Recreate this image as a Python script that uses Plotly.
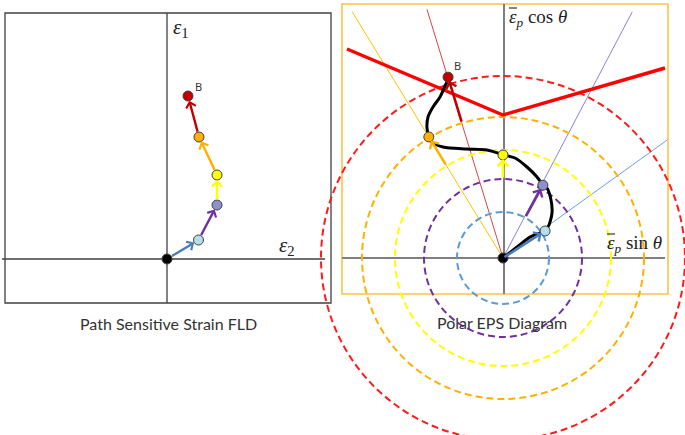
import numpy as np
import plotly.graph_objects as go

# ---------------- data ----------------
# Left panel: path-sensitive strain FLD (eps2, eps1), origin first
fld_eps2 = [0.000, 0.063, 0.100, 0.100, 0.064, 0.042]
fld_eps1 = [0.000, 0.038, 0.108, 0.168, 0.244, 0.326]

# Right panel: polar EPS diagram, stages (theta from eps1 axis, eq. plastic strain)
stage_theta_deg = [0.0, 57.3, 28.7, 0.0, -31.5, -16.9]
stage_eps_p = [0.000, 0.100, 0.166, 0.206, 0.284, 0.378]
circle_eps_p = [0.092, 0.158, 0.216, 0.282, 0.364]
ray_theta_deg = [54.3, 27.7, -31.5, -17.0]
ray_length = [0.404, 0.556, 0.578, 0.520]

# polar forming limit curve (eps_p sin(theta), eps_p cos(theta))
flc_x = [-0.312, 0.000, 0.324]
flc_y = [0.418, 0.286, 0.380]

# strain path drawn in the polar diagram
path_x = [0.000, 0.028, 0.054, 0.078, 0.090, 0.098, 0.096, 0.088, 0.080,
          0.068, 0.048, 0.024, 0.002, -0.032, -0.072, -0.120, -0.142, -0.148,
          -0.152, -0.150, -0.140, -0.126, -0.116, -0.112]
path_y = [0.000, 0.022, 0.042, 0.052, 0.062, 0.090, 0.116, 0.140, 0.146,
          0.162, 0.182, 0.200, 0.206, 0.216, 0.218, 0.222, 0.232, 0.242,
          0.260, 0.282, 0.302, 0.322, 0.344, 0.352]

marker_fill = ["#000000", "#b7dde8", "#8f90d0", "#ffff00", "#ffb000", "#c00000"]
arrow_col = ["#4a7ebb", "#7030a0", "#ffff00", "#ffb000", "#c00000"]
circle_col = ["#5b9bd5", "#7030a0", "#ffff00", "#ffb000", "#ff1a1a"]
ray_col = ["#6f9fe6", "#8585d6", "#ffc000", "#d24848"]

W, H = 685, 435

def P(px, py):
    return px / W, 1 - py / H

fig = go.Figure()

th = np.radians(stage_theta_deg)
sx = np.array(stage_eps_p) * np.sin(th)
sy = np.array(stage_eps_p) * np.cos(th)

shapes = []
def pline(xa, ya, xb, yb, color, width, layer="below"):
    a, b = P(xa, ya); c, d = P(xb, yb)
    shapes.append(dict(type="line", xref="paper", yref="paper", x0=a, y0=b, x1=c, y1=d,
                       line=dict(color=color, width=width), layer=layer))

# frames
x0, y0 = P(5, 303); x1, y1 = P(331, 13)
shapes.append(dict(type="rect", xref="paper", yref="paper", x0=x0, y0=y0, x1=x1, y1=y1,
                   line=dict(color="#404040", width=1.3), layer="below"))
x0, y0 = P(342, 294); x1, y1 = P(668, 4)
shapes.append(dict(type="rect", xref="paper", yref="paper", x0=x0, y0=y0, x1=x1, y1=y1,
                   line=dict(color="#fbc34a", width=1.6), layer="below"))
# left axes
pline(167, 13, 167, 303, "#404040", 1.3)
pline(2, 259, 325, 259, "#404040", 1.3)
# rays
for t, L, col in zip(ray_theta_deg, ray_length, ray_col):
    r = np.radians(t)
    shapes.append(dict(type="line", xref="x2", yref="y2", x0=0, y0=0,
                       x1=L * np.sin(r), y1=L * np.cos(r),
                       line=dict(color=col, width=1), layer="below"))
# dashed circles
for r, col in zip(circle_eps_p, circle_col):
    shapes.append(dict(type="circle", xref="x2", yref="y2", x0=-r, y0=-r, x1=r, y1=r,
                       line=dict(color=col, width=2, dash="7px,4px"), layer="below"))
# right axes
pline(504, 4, 504, 294, "#7f7f7f", 2)
pline(342, 258, 665, 258, "#7f7f7f", 2)
# overbars of the eps_p labels
pline(509, 8, 517, 8, "#222222", 1.1, "above")
pline(607, 234, 615, 234, "#222222", 1.1, "above")

# FLC
fig.add_trace(go.Scatter(x=flc_x, y=flc_y, mode="lines", xaxis="x2", yaxis="y2",
                         line=dict(color="#ff0000", width=3.5), hoverinfo="skip"))
# strain path
fig.add_trace(go.Scatter(x=path_x, y=path_y, mode="lines", xaxis="x2", yaxis="y2",
                         line=dict(color="#000000", width=3, shape="spline", smoothing=0.8),
                         hoverinfo="skip"))

annotations = []
# right arrows
for i in range(1, 6):
    r0 = 0.0 if i == 1 else circle_eps_p[i - 2]
    annotations.append(dict(
        x=sx[i], y=sy[i], ax=r0 * np.sin(th[i]), ay=r0 * np.cos(th[i]),
        xref="x2", yref="y2", axref="x2", ayref="y2", text="", showarrow=True,
        arrowhead=4, arrowsize=0.8, arrowwidth=2.6, arrowcolor=arrow_col[i - 1],
        standoff=4, startstandoff=0))
# left arrows
for i in range(1, 6):
    annotations.append(dict(
        x=fld_eps2[i], y=fld_eps1[i], ax=fld_eps2[i - 1], ay=fld_eps1[i - 1],
        xref="x", yref="y", axref="x", ayref="y", text="", showarrow=True,
        arrowhead=4, arrowsize=0.8, arrowwidth=2.4, arrowcolor=arrow_col[i - 1],
        standoff=5, startstandoff=4))

# markers
fig.add_trace(go.Scatter(x=fld_eps2, y=fld_eps1, mode="markers", xaxis="x", yaxis="y",
                         marker=dict(size=10, color=marker_fill,
                                     line=dict(color="#404040", width=1)),
                         hoverinfo="skip"))
fig.add_trace(go.Scatter(x=sx, y=sy, mode="markers", xaxis="x2", yaxis="y2",
                         marker=dict(size=10, color=marker_fill,
                                     line=dict(color="#404040", width=1)),
                         hoverinfo="skip"))

def label(px, py, text, size, family, color="#222222", xanchor="center"):
    x, y = P(px, py)
    annotations.append(dict(x=x, y=y, xref="paper", yref="paper", text=text,
                            showarrow=False, xanchor=xanchor, yanchor="middle",
                            font=dict(size=size, family=family, color=color)))

serif = "Liberation Serif"
label(181, 28, "<i>ε</i><sub>1</sub>", 21, serif)
label(287, 246, "<i>ε</i><sub>2</sub>", 21, serif)
label(507, 18, "<i>ε</i><sub><i>p</i></sub> cos <i>θ</i>", 19, serif, xanchor="left")
label(605, 244, "<i>ε</i><sub><i>p</i></sub> sin <i>θ</i>", 19, serif, xanchor="left")
label(198, 87, "B", 11, "Noto Sans", "#333333")
label(457, 66, "B", 11, "Noto Sans", "#333333")
label(168, 323, "Path Sensitive Strain FLD", 16, "Lato", "#333333")
label(502, 322, "Polar EPS Diagram", 16, "Lato", "#333333")

fig.update_layout(
    width=W, height=H, autosize=False,
    margin=dict(l=0, r=0, t=0, b=0),
    paper_bgcolor="white", plot_bgcolor="rgba(0,0,0,0)",
    showlegend=False, shapes=shapes, annotations=annotations,
    xaxis=dict(domain=[0, 1], range=[-0.334, 1.036], visible=False, fixedrange=True),
    yaxis=dict(domain=[0, 1], range=[-0.352, 0.518], visible=False, fixedrange=True),
    xaxis2=dict(domain=[0, 1], range=[-1.006, 0.364], visible=False, overlaying="x",
                anchor="y2", fixedrange=True),
    yaxis2=dict(domain=[0, 1], range=[-0.354, 0.516], visible=False, overlaying="y",
                anchor="x2", fixedrange=True),
)

fig.write_html("out.html", config={"displayModeBar": False},
               post_script="document.body.style.margin='0px';")
